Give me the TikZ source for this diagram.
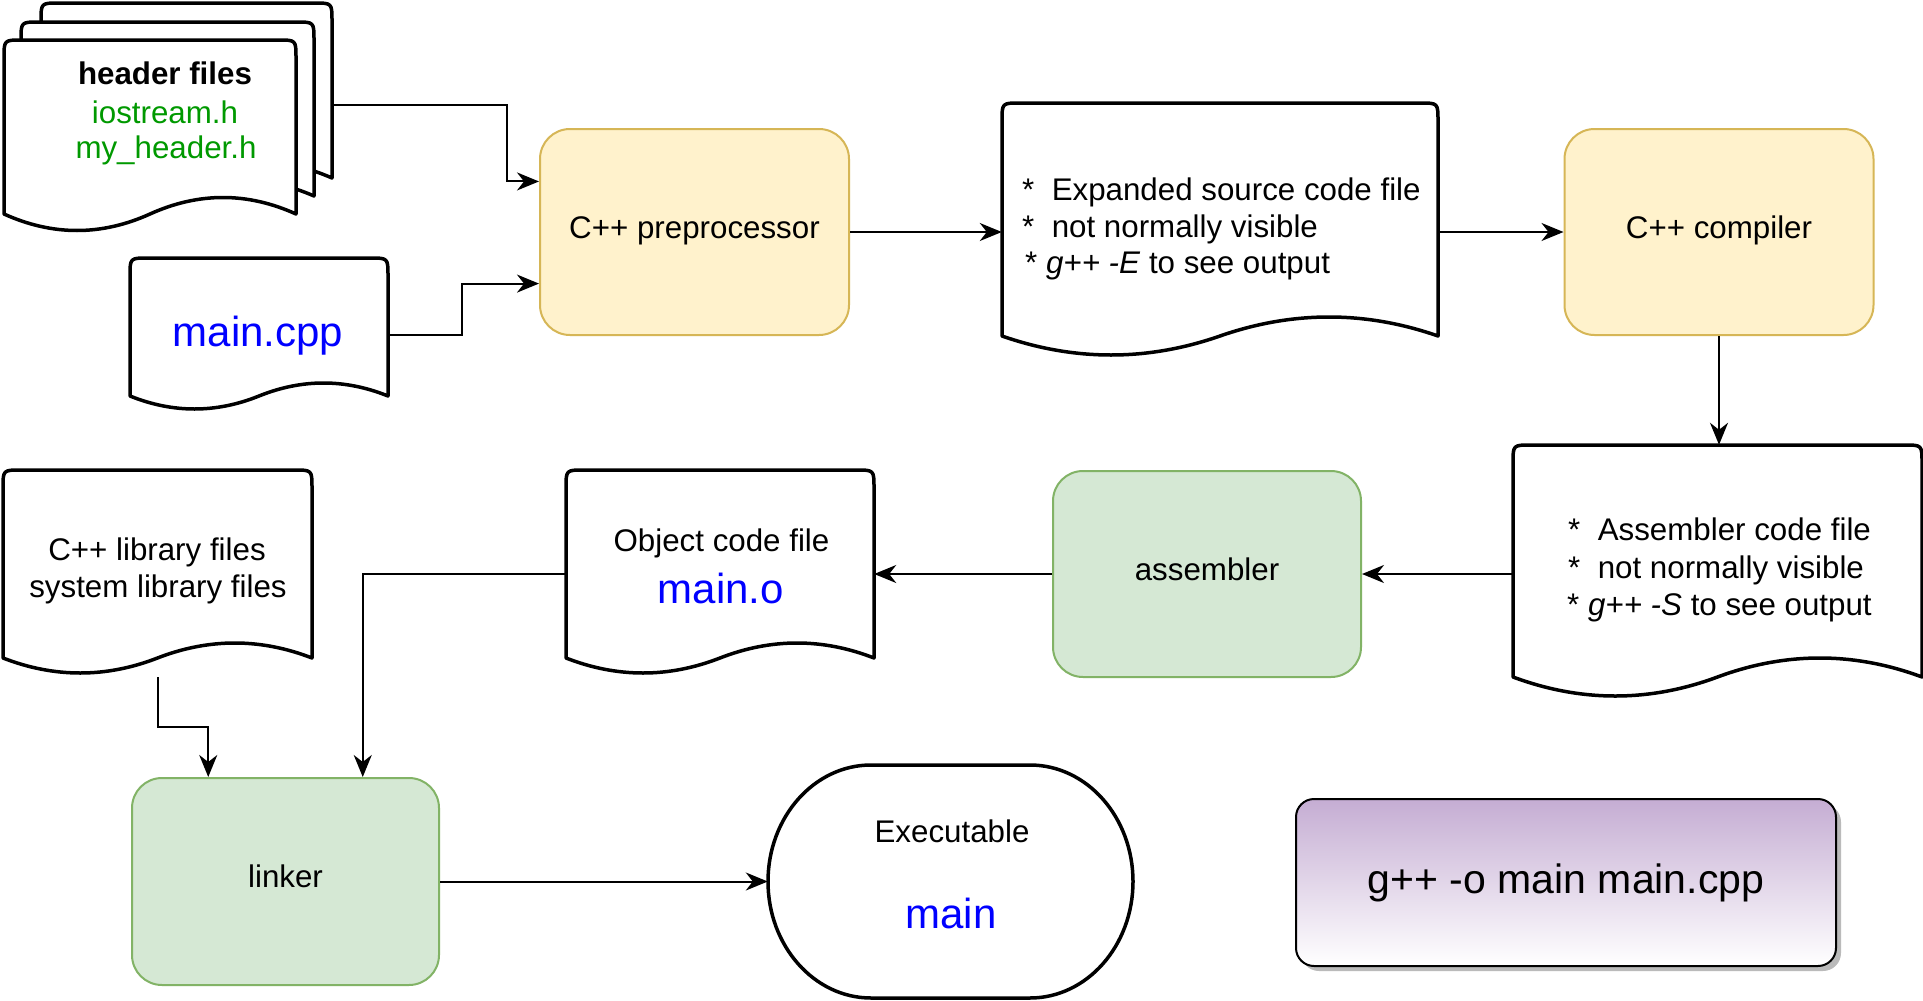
\documentclass[tikz,border=0pt]{standalone}
\usepackage{fontspec}
\setmainfont{Liberation Sans}
\usetikzlibrary{arrows.meta,fit,calc,shadows}

\definecolor{procfill}{HTML}{FFF2CC}
\definecolor{procline}{HTML}{D6B656}
\definecolor{toolfill}{HTML}{D5E8D4}
\definecolor{toolline}{HTML}{82B366}
\definecolor{cmdtop}{HTML}{C5ADD3}
\definecolor{filegreen}{HTML}{009900}
\definecolor{fileblue}{HTML}{0000FF}

\newcommand\fsnorm{\fontsize{31.3}{37}\selectfont}
\newcommand\fsbig{\fontsize{42}{50}\selectfont}

% document shape: name, left, top, right, wave baseline, wave amplitude, box bottom
\newcommand\docshape[7]{%
  \filldraw[docline] (#2,#5) -- (#2,{#3+18}) .. controls (#2,#3) .. ({#2+18},#3)
    -- ({#4-18},#3) .. controls (#4,#3) .. (#4,{#3+18}) -- (#4,#5)
    .. controls ({#4-(#4-#2)/6},{#5-4*#6/3}) and ({(#2+#4)/2+(#4-#2)/6},{#5-4*#6/3}) .. ({(#2+#4)/2},#5)
    .. controls ({(#2+#4)/2-(#4-#2)/6},{#5+4*#6/3}) and ({#2+(#4-#2)/6},{#5+4*#6/3}) .. (#2,#5) -- cycle;
  \node[fit={(#2,#3) (#4,#7)}, inner sep=0pt] (#1) {};
}

\tikzset{
  docline/.style={draw=black, fill=white, line width=3.5pt, line join=round},
  boxlabel/.style={font=\fsnorm, text height=20.6pt, text depth=8pt, inner sep=0pt},
  procbox/.style={boxlabel, draw=procline, fill=procfill, line width=2pt, rounded corners=30pt,
    minimum width=309pt, minimum height=206pt},
  toolbox/.style={boxlabel, draw=toolline, fill=toolfill, line width=2pt, rounded corners=30pt,
    minimum width=308pt, minimum height=206pt},
  cmdbox/.style={draw=black, line width=2pt, rounded corners=18pt, top color=cmdtop, bottom color=white,
    minimum width=540pt, minimum height=167pt, inner sep=0pt,
    font=\fontsize{41}{48}\selectfont, text height=30pt, text depth=9pt,
    drop shadow={shadow xshift=5pt, shadow yshift=-5pt, fill=black!45, opacity=0.6}},
  lbl/.style={inner sep=0pt, anchor=base, font=\fsnorm},
  lblw/.style={inner sep=0pt, anchor=base west, font=\fsnorm},
  arr/.style={draw=black, line width=2pt, -{Stealth[length=22pt,width=18pt,inset=7pt]}},
}

\begin{document}
\begin{tikzpicture}[x=1pt,y=-1pt]
\path[fill=white] (0,0) rectangle (1923,1001);
\useasboundingbox (0,0) rectangle (1923,1001);

% stacked header files
\docshape{hdrback}{41}{3}{332}{178}{16}{195}
\docshape{hdrmid}{21}{22}{314}{196}{16}{213}
\docshape{hdrfront}{4}{40}{296}{214}{16.5}{231}
\node[fit={(4,3) (332,207)}, inner sep=0pt] (hdr) {};
\node[lbl, font=\bfseries\fsnorm] (hdrT1) at (165,84) {header files};
\node[lbl, text=filegreen] (hdrT2) at (165,123) {iostream.h};
\node[lbl, text=filegreen] (hdrT3) at (166,158) {my\_header.h};

% source file
\docshape{mcpp}{130}{258}{388}{396}{13}{412}
\node[lbl, font=\fsbig, text=fileblue] (mcppT) at (258,346) {main.cpp};

% preprocessor and compiler
\node[procbox] (pre) at (694.5,232) {C++ preprocessor};
\node[procbox] (comp) at (1719,232) {C++ compiler};

% expanded source
\docshape{expd}{1002}{103}{1438}{336}{19}{355}
\node[lblw] (e1) at (1022,200) {*~~Expanded source code file};
\node[lblw] (e2) at (1022,237) {*~~not normally visible};
\node[lblw] (e3) at (1025,273) {*~\textit{g++ -E} to see output};

% assembler code
\docshape{asmd}{1513}{445}{1922}{677}{19}{697}
\node[lblw] (a1) at (1568,540) {*~~Assembler code file};
\node[lblw] (a2) at (1568,578) {*~~not normally visible};
\node[lblw] (a3) at (1567,615) {*~\textit{g++ -S} to see output};

% assembler and linker
\node[toolbox] (asmbox) at (1207,574) {assembler};
\node[toolbox, minimum width=307pt, minimum height=207pt] (link) at (285.5,881.5) {linker};

% object code
\docshape{obj}{566}{470}{874}{658}{15}{677}
\node[lbl] (oT1) at (721.5,551) {Object code file};
\node[lbl, font=\fsbig, text=fileblue] (oT2) at (721,603) {main.o};

% libraries
\docshape{lib}{3}{470}{312}{658}{15}{677}
\node[lbl] (lT1) at (157,560) {C++ library files};
\node[lbl] (lT2) at (158,597) {system library files};

% executable
\filldraw[docline] (871,765) -- (1030,765)
  .. controls (1086.9,765) and (1133,817.2) .. (1133,881.5)
  .. controls (1133,945.8) and (1086.9,998) .. (1030,998) -- (871,998)
  .. controls (814.1,998) and (768,945.8) .. (768,881.5)
  .. controls (768,817.2) and (814.1,765) .. (871,765) -- cycle;
\node[fit={(768,765) (1133,998)}, inner sep=0pt] (exec) {};
\node[lbl] (xT1) at (952,842) {Executable};
\node[lbl, font=\fsbig, text=fileblue] (xT2) at (951,928) {main};

% one-step command
\node[cmdbox] (cmd) at (1566,882.5) {g++ -o main main.cpp};

% connectors
\coordinate (pIn1) at ($(pre.north west)!0.257!(pre.south west)$);
\coordinate (pIn2) at ($(pre.north west)!0.748!(pre.south west)$);
\coordinate (lIn1) at ($(link.north west)!0.25!(link.north east)$);
\coordinate (lIn2) at ($(link.north west)!0.75!(link.north east)$);

\draw[arr] (hdr.east) -| ([xshift=-32pt]pIn1) -- (pIn1);
\draw[arr] (mcpp.east) -| ([xshift=-77pt]pIn2) -- (pIn2);
\draw[arr] (pre.east) -- (pre.east -| expd.west);
\draw[arr] (comp.west -| expd.east) -- (comp.west);
\draw[arr] (comp.south) -- (comp.south |- asmd.north);
\draw[arr] (asmbox.east -| asmd.west) -- (asmbox.east);
\draw[arr] (asmbox.west) -- (asmbox.west -| obj.east);
\draw[arr] (asmbox.west -| obj.west) -| (lIn2);
\draw[arr] (lib.south) -- ($(lib.south)!0.5!(lib.south |- lIn1)$) -| (lIn1);
\draw[arr] (link.east) -- (exec.west);
\end{tikzpicture}
\end{document}
